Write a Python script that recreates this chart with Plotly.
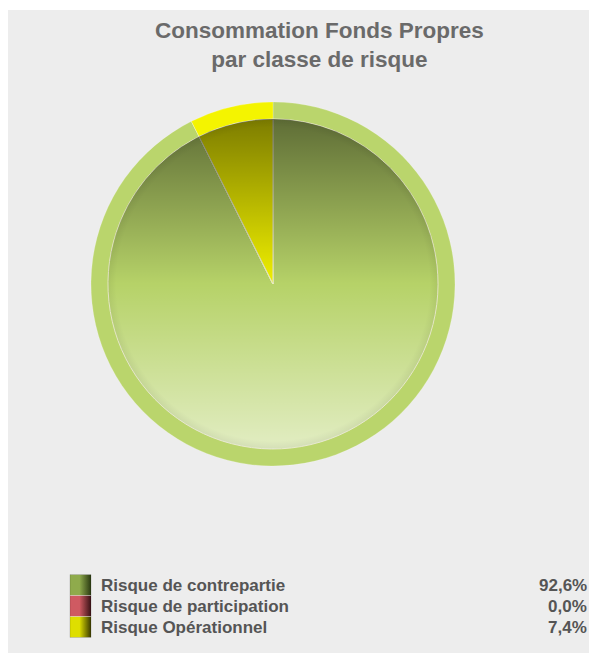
import base64
import plotly.graph_objects as go

# ---- data ----
categories = ["Risque de contrepartie", "Risque de participation", "Risque Opérationnel"]
values = [92.6, 0.0, 7.4]
title_lines = ["Consommation Fonds Propres", "par classe de risque"]

# ---- styles ----
ring_colors = ["#bad56c", "#c8505a", "#f4f400"]
inner_colors = ["#b6d268", "#c8505a", "#f0f000"]
swatch_colors = [("#8fab4c", "#2b3a12"), ("#cf5a62", "#3a1216"), ("#dede00", "#3a3a00")]

# The page body adds an 8px margin; the figure is sized to fill the rest.
OFF = 8
W, H = 597 - OFF, 653 - OFF


def X(px):  # reference px (from left) -> paper
    return (px - OFF) / W


def Y(px):  # reference px (from top) -> paper
    return (H - (px - OFF)) / H


cx, cy = 273, 284          # pie centre in reference px
R_out, R_in = 182, 165


def px_dom(cx, cy, r):
    return dict(x=[X(cx - r), X(cx + r)], y=[Y(cy + r), Y(cy - r)])


def svg_uri(svg):
    return "data:image/svg+xml;base64," + base64.b64encode(svg.encode()).decode()


fig = go.Figure()

# outer ring (full pie)
fig.add_trace(go.Pie(
    labels=categories, values=values, sort=False, direction="clockwise",
    rotation=0, textinfo="none", hoverinfo="label+percent",
    marker=dict(colors=ring_colors, line=dict(color="rgba(255,255,255,0.35)", width=0.6)),
    domain=px_dom(cx, cy, R_out), showlegend=False,
))
# inner pie
fig.add_trace(go.Pie(
    labels=categories, values=values, sort=False, direction="clockwise",
    rotation=0, textinfo="none", hoverinfo="label+percent",
    marker=dict(colors=inner_colors, line=dict(color="#e9eac8", width=1)),
    domain=px_dom(cx, cy, R_in), showlegend=False,
))

# vertical gradient overlay on inner pie
grad_svg = (
    '<svg xmlns="http://www.w3.org/2000/svg" width="200" height="200" viewBox="0 0 200 200">'
    '<defs><linearGradient id="g" x1="0" y1="0" x2="0" y2="1">'
    '<stop offset="0" stop-color="#000" stop-opacity="0.48"/>'
    '<stop offset="0.5" stop-color="#000" stop-opacity="0"/>'
    '<stop offset="0.5" stop-color="#fff" stop-opacity="0"/>'
    '<stop offset="1" stop-color="#fff" stop-opacity="0.6"/>'
    '</linearGradient>'
    '<radialGradient id="e" cx="0.5" cy="0.5" r="0.5">'
    '<stop offset="0.95" stop-color="#000" stop-opacity="0"/>'
    '<stop offset="1" stop-color="#000" stop-opacity="0.06"/>'
    '</radialGradient></defs>'
    '<circle cx="100" cy="100" r="100" fill="url(#g)"/>'
    '<circle cx="100" cy="100" r="100" fill="url(#e)"/>'
    '</svg>'
)

images = [dict(
    source=svg_uri(grad_svg), xref="paper", yref="paper",
    x=X(cx - R_in), y=Y(cy - R_in),
    sizex=2 * R_in / W, sizey=2 * R_in / H,
    sizing="stretch", xanchor="left", yanchor="top", layer="above",
)]

shapes = [dict(type="rect", xref="paper", yref="paper",
               x0=0, x1=1, y0=0, y1=Y(10),
               fillcolor="#ededed", line=dict(width=0), layer="below")]

annotations = [dict(
    text="<b>" + "<br>".join(title_lines) + "</b>", xref="paper", yref="paper",
    x=X(319), y=Y(45), xanchor="center", yanchor="middle",
    showarrow=False, font=dict(family="Liberation Sans, Arial", size=22.5, color="#6a6a6a"),
)]

# custom legend
row_y = [585, 606, 627]
sw_x0, sw_x1 = 70, 91
for i, (cat, val) in enumerate(zip(categories, values)):
    y = row_y[i]
    c1, c2 = swatch_colors[i]
    sw_svg = (
        '<svg xmlns="http://www.w3.org/2000/svg" width="21" height="21" viewBox="0 0 21 21">'
        '<defs><linearGradient id="s" x1="0" y1="0" x2="1" y2="0">'
        f'<stop offset="0" stop-color="{c1}"/><stop offset="0.45" stop-color="{c1}"/>'
        f'<stop offset="1" stop-color="{c2}"/></linearGradient></defs>'
        '<rect x="0" y="0" width="21" height="21" fill="url(#s)"/></svg>'
    )
    images.append(dict(
        source=svg_uri(sw_svg), xref="paper", yref="paper",
        x=X(sw_x0), y=Y(y - 10.5), sizex=(sw_x1 - sw_x0) / W, sizey=21 / H,
        sizing="stretch", xanchor="left", yanchor="top", layer="above",
    ))
    annotations.append(dict(
        text=f"<b>{cat}</b>", xref="paper", yref="paper", x=X(98.5), y=Y(y),
        xanchor="left", yanchor="middle", showarrow=False,
        font=dict(family="Liberation Sans, Arial", size=17, color="#555555"),
    ))
    annotations.append(dict(
        text="<b>" + f"{val:.1f}".replace(".", ",") + "%</b>", xref="paper", yref="paper",
        x=X(589), y=Y(y), xanchor="right", yanchor="middle", showarrow=False,
        font=dict(family="Liberation Sans, Arial", size=17, color="#555555"),
    ))

shapes.append(dict(type="rect", xref="paper", yref="paper",
                   x0=X(sw_x0), x1=X(sw_x1), y0=Y(637.5), y1=Y(574.5),
                   line=dict(color="rgba(0,0,0,0.15)", width=1), fillcolor="rgba(0,0,0,0)",
                   layer="above"))

fig.update_layout(
    width=W, height=H, margin=dict(l=0, r=0, t=0, b=0),
    paper_bgcolor="#ffffff", plot_bgcolor="#ffffff",
    images=images, shapes=shapes, annotations=annotations, showlegend=False,
)

fig.write_html("out.html")
